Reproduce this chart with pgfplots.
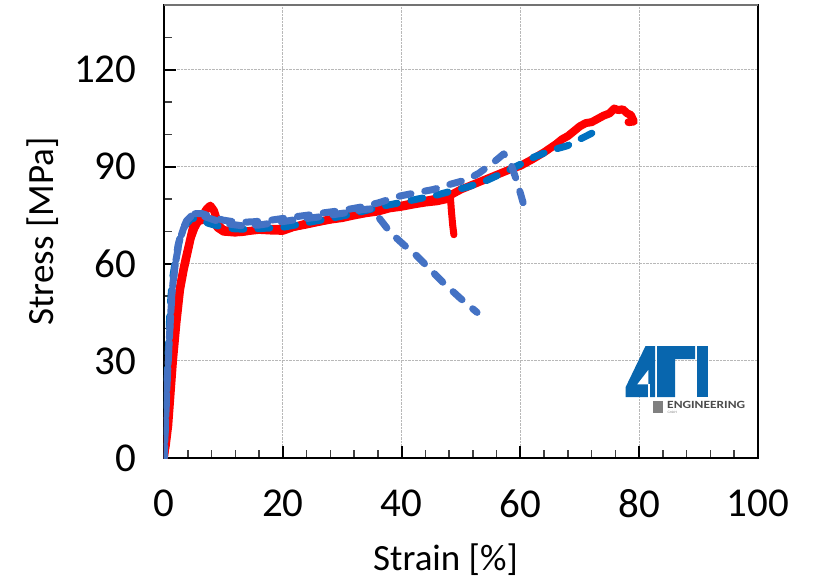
\documentclass[border=0pt]{standalone}
\usepackage{fontspec}
\setmainfont{Carlito}
\usepackage{pgfplots}
\pgfplotsset{compat=1.18}
\definecolor{redc}{HTML}{FF0000}
\definecolor{bluel}{HTML}{4472C4}
\definecolor{blued}{HTML}{0070C0}
\definecolor{logoblue}{HTML}{0866AE}
\begin{document}
\begin{tikzpicture}
\path[use as bounding box] (-164pt,-121pt) rectangle (654pt,458pt);
\begin{axis}[
  scale only axis, width=594pt, height=453pt,
  xmin=0, xmax=100, ymin=0, ymax=140,
  xtick={0,20,...,100}, ytick={0,30,...,120},
  minor xtick={4,8,12,16,24,28,32,36,44,48,52,56,64,68,72,76,84,88,92,96},
  minor ytick={10,20,40,50,70,80,100,110,130,140},
  tick align=inside, xtick pos=left, ytick pos=left,
  major tick length=12pt, minor tick length=8pt,
  major tick style={line width=2pt, black},
  minor tick style={line width=1.5pt, black!75},
  axis line style={line width=2.5pt, black},
  xmajorgrids, ymajorgrids,
  major grid style={densely dotted, line width=0.9pt, black!28},
  /pgf/number format/assume math mode=true,
  ticklabel style={font=\fontsize{41}{41}\selectfont},
  xticklabel style={yshift=-28pt},
  yticklabel style={xshift=-24pt},
  xlabel={Strain [\%]}, ylabel={Stress [MPa]},
  label style={font=\fontsize{37}{37}\selectfont},
  xlabel style={at={(axis description cs:0.474,-0.225)}, anchor=center},
  ylabel style={at={(axis description cs:-0.2037,0.5)}, anchor=center},
]
% red specimen 1
\addplot[redc, line width=8pt, line join=round, line cap=round] coordinates {
(0,0) (0.3,5) (0.6,12) (0.9,20) (1.3,30) (1.8,40) (2.4,50) (3.0,56) (3.5,60.5)
(4.2,66) (4.7,70) (5.2,73.5) (5.8,74.5) (6.5,75) (7.2,77) (7.8,78) (8.4,76.5)
(9.2,72) (10,70.5) (11.5,70) (13,69.8) (14.5,70.2) (16,70.5) (18,70.3) (20,70.2)
(22,71.5) (24,72.5) (26,73) (28,73.8) (30,74.5) (32,75.5) (34,76) (36,77) (38,77.5)
(40,78) (42,78.8) (44,79.5) (46,80.2) (48,81) (50,83) (52,84.5) (54,86) (56,87.5)
(58,89) (60,90.3) (62,92.3) (64,94.5) (66,97) (67,98.5) (68,99.5) (69,101) (70,102.5)
(71,103.5) (72,103.8) (73,104.8) (74,105.8) (75,106.5) (75.8,108) (76.5,107.5)
(77.2,107.8) (78,106.5) (78.6,106) (79.1,104) (78.2,103.8)
};
% red specimen 2
\addplot[redc, line width=7pt, line join=round, line cap=round] coordinates {
(0,0) (0.4,4) (0.8,10) (1.2,20) (1.6,30) (2.2,42) (2.8,52) (3.4,58) (4,63) (4.6,68)
(5.2,71) (5.8,73) (6.6,73.5) (7.4,74) (8.2,73) (9,71) (10,69.8) (12,69.5) (14,70)
(16,70.8) (18,71) (20,71) (22,71.3) (24,72) (26,72.8) (28,73.5) (30,74) (32,74.8)
(34,75.5) (36,76) (38,77) (40,77.5) (42,78.2) (44,78.8) (46,79.2) (47.5,79.8)
(48.2,81) (48.4,76) (48.6,72) (48.8,69)
};
% dark blue specimen
\addplot[blued, line width=7pt, line join=round, line cap=round, dash pattern=on 12pt off 14pt] coordinates {
(0,0) (0.15,6) (0.3,15) (0.5,25) (0.8,36) (1.0,46) (1.4,55) (2,62) (2.7,68) (3.6,72)
(4.6,74) (5.8,74) (7.5,72.5) (9.5,71.5) (12,70.8) (14.5,70.7) (17,71) (20,71.3)
(23,72.3) (25.7,73.3) (28.5,74.2) (31.4,75.3) (34,76.5) (37,77.9) (40,79) (42.6,80)
(45.4,81) (48,82.3) (51,83.7) (54,85.5) (56.7,87.8) (59.5,90.3) (62.3,93) (65,95)
(67.9,96.5) (70,98.5) (71.3,99.7) (73,101.3) (73.4,99.6)
};
% light blue specimen A
\addplot[bluel, line width=7pt, line join=round, line cap=round, dash pattern=on 12pt off 14pt] coordinates {
(0,0) (0.2,8) (0.4,18) (0.7,30) (1.0,40) (1.3,50) (1.9,60) (2.4,66) (3.0,70) (3.8,73.3)
(4.6,74.8) (5.5,75.3) (7,74.5) (8.9,73.3) (11,72.3) (13.4,71.7) (16,72) (19,72.8)
(22,73.6) (25.7,74.4) (28.5,75.2) (31.4,76) (33.5,76.8) (35,77) (36.5,73.5) (38.1,69.7)
(40.3,66) (42.6,62.4) (44.8,58.3) (47,54.2) (49.8,49.5) (52.7,45)
};
% light blue specimen B
\addplot[bluel, line width=7pt, line join=round, line cap=round, dash pattern=on 12pt off 14pt, dash phase=10pt] coordinates {
(0,0) (0.25,10) (0.5,22) (0.8,33) (1.1,44) (1.5,54) (2,61) (2.6,67) (3.3,71) (4.2,74)
(5.2,75.5) (6.5,75.5) (8,74.5) (10,73.5) (12.5,72.8) (15,73) (18,73.5) (21,74.3)
(24,75) (27,75.8) (30,76.5) (33,77.5) (36,78.8) (39.8,81) (42.5,82) (45.4,83)
(48,84.5) (51,86) (53,88) (55.5,91.4) (57.2,94) (58.3,91.4) (59.5,85) (60.6,78)
};
\end{axis}
\draw[black!55, line width=2pt] (0pt,453pt) -- (594pt,453pt);
% logo
\begin{scope}[x=1pt,y=1pt]
\fill[logoblue] (461.7,61) -- (461.7,71) -- (481.5,112) -- (491,112) -- (491,61) -- cycle;
\fill[white] (473.3,73.7) -- (484.3,88) -- (484.3,73.7) -- cycle;
\draw[white, line width=1.5pt] (485,73.7) -- (485,60);
\fill[logoblue] (493,112) -- (531,112) -- (531,99) -- (511,99) -- (511,61) -- (493,61) -- cycle;
\fill[logoblue] (533,112) rectangle (544.3,61);
\fill[black!50] (489,45) rectangle (499,57);
\node[anchor=base west, inner sep=0pt, text=black!70, font=\fontsize{11}{11}\selectfont\bfseries] at (503,50) {\scalebox{1.22}[1]{ENGINEERING}};
\node[anchor=north west, inner sep=0pt, text=black!50, font=\fontsize{3.5}{4}\selectfont] at (503.5,47) {GmbH};
\end{scope}
\end{tikzpicture}
\end{document}
